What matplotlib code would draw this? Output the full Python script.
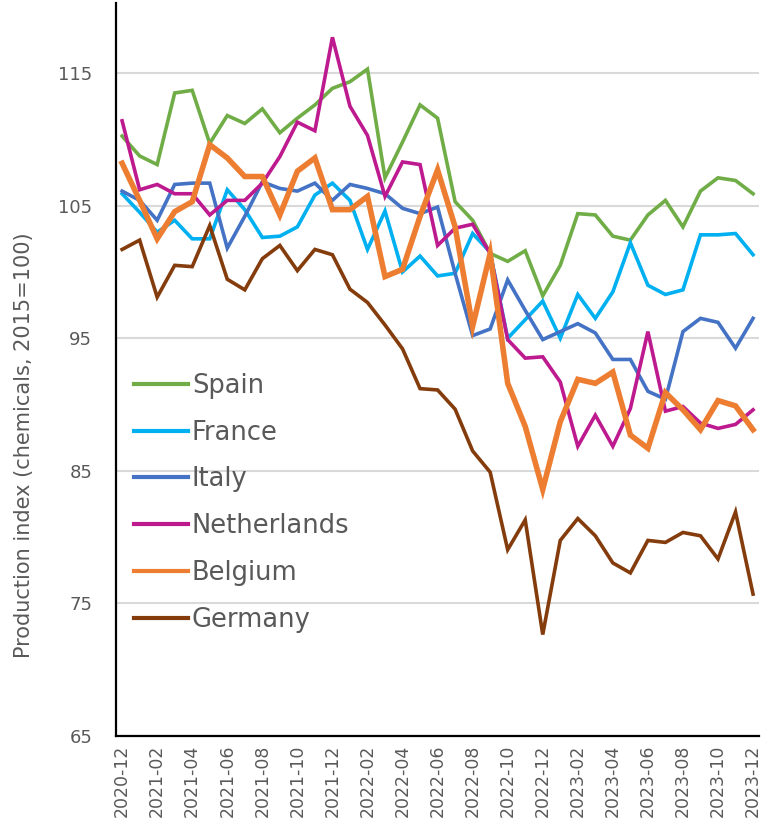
import numpy as np
import matplotlib
matplotlib.use("Agg")
import matplotlib.pyplot as plt

months = ["2020-12",
          "2021-01", "2021-02", "2021-03", "2021-04", "2021-05", "2021-06",
          "2021-07", "2021-08", "2021-09", "2021-10", "2021-11", "2021-12",
          "2022-01", "2022-02", "2022-03", "2022-04", "2022-05", "2022-06",
          "2022-07", "2022-08", "2022-09", "2022-10", "2022-11", "2022-12",
          "2023-01", "2023-02", "2023-03", "2023-04", "2023-05", "2023-06",
          "2023-07", "2023-08", "2023-09", "2023-10", "2023-11", "2023-12"]

spain = [110.25, 108.75, 108.1, 113.5, 113.7, 109.7, 111.8, 111.2, 112.3, 110.5,
         111.6, 112.6, 113.85, 114.35, 115.3, 107.1, 109.8, 112.6, 111.6, 105.3,
         103.9, 101.4, 100.8, 101.6, 98.2, 100.5, 104.4, 104.3, 102.7, 102.4,
         104.3, 105.4, 103.4, 106.1, 107.1, 106.9, 105.9]
france = [105.9, 104.5, 103.0, 103.9, 102.5, 102.5, 106.2, 104.7, 102.6, 102.7,
          103.4, 105.8, 106.7, 105.4, 101.7, 104.6, 100.0, 101.2, 99.7, 99.9,
          102.9, 101.5, 95.0, 96.4, 97.8, 95.0, 98.3, 96.5, 98.5, 102.2,
          99.0, 98.3, 98.65, 102.8, 102.8, 102.9, 101.3]
italy = [106.1, 105.4, 103.9, 106.6, 106.7, 106.7, 101.8, 104.2, 106.8, 106.3,
         106.1, 106.7, 105.4, 106.6, 106.3, 105.9, 104.8, 104.4, 104.9, 99.9,
         95.2, 95.7, 99.4, 97.1, 94.9, 95.5, 96.1, 95.4, 93.4, 93.4,
         91.0, 90.4, 95.5, 96.5, 96.2, 94.25, 96.5]
netherlands = [111.4, 106.2, 106.6, 105.9, 105.9, 104.3, 105.4, 105.4, 106.7, 108.7,
               111.3, 110.65, 117.7, 112.5, 110.3, 105.7, 108.3, 108.1, 102.0, 103.3,
               103.6, 101.4, 94.9, 93.5, 93.6, 91.7, 86.85, 89.2, 86.85, 89.7,
               95.5, 89.5, 89.85, 88.6, 88.2, 88.5, 89.6]
belgium = [108.2, 105.4, 102.5, 104.55, 105.3, 109.6, 108.6, 107.2, 107.2, 104.3,
           107.6, 108.6, 104.7, 104.7, 105.7, 99.65, 100.2, 104.2, 107.7, 103.4,
           95.9, 101.4, 91.6, 88.35, 83.6, 88.7, 91.9, 91.6, 92.45, 87.7,
           86.7, 90.9, 89.6, 88.1, 90.3, 89.9, 88.1]
germany = [101.7, 102.4, 98.1, 100.5, 100.4, 103.5, 99.45, 98.65, 101.0, 102.0,
           100.1, 101.7, 101.3, 98.7, 97.7, 96.0, 94.2, 91.2, 91.1, 89.65,
           86.5, 84.9, 79.05, 81.3, 72.65, 79.75, 81.4, 80.1, 78.05, 77.3,
           79.75, 79.6, 80.35, 80.1, 78.35, 81.9, 75.7]

countries = ["Spain", "France", "Italy", "Netherlands", "Belgium", "Germany"]
series = [spain, france, italy, netherlands, belgium, germany]
colors = ["#70AD47", "#00B0F0", "#4472C4", "#BE1A8F", "#ED7D31", "#843C0C"]
widths = [2.6, 2.6, 2.6, 2.6, 4.0, 2.6]

text_color = "#595959"

fig = plt.figure(figsize=(7.63, 8.35), dpi=100)
ax = fig.add_axes([0.152, 0.1186, 0.843, 0.878])

x = np.arange(len(months))
for name, vals, c, lw in zip(countries, series, colors, widths):
    ax.plot(x, vals, color=c, lw=lw, label=name, solid_joinstyle="miter")

ax.set_xlim(-0.35, len(months) - 1 + 0.35)
ax.set_ylim(65, 120.3)
ax.set_yticks([65, 75, 85, 95, 105, 115])
ax.set_xticks(x[::2])
ax.set_xticklabels(months[::2], rotation=90, fontsize=12.5, color=text_color)
ax.tick_params(axis="y", labelsize=13, labelcolor=text_color, length=0, pad=17)
ax.tick_params(axis="x", length=0, pad=6)
ax.grid(axis="y", color="#D9D9D9", lw=1.5)
ax.set_axisbelow(True)

for s in ["top", "right"]:
    ax.spines[s].set_visible(False)
for s in ["left", "bottom"]:
    ax.spines[s].set_color("black")
    ax.spines[s].set_linewidth(1.6)

ax.set_ylabel("Production index (chemicals, 2015=100)", fontsize=15, color=text_color)
ax.yaxis.set_label_coords(-0.128, 0.397)

leg = ax.legend(loc="upper left", bbox_to_anchor=(0.0, 0.52), frameon=False,
                fontsize=18.5, handlelength=2.1, handletextpad=0.15,
                labelspacing=0.81, borderaxespad=0.3)
for t in leg.get_texts():
    t.set_color(text_color)
for h in leg.get_lines():
    h.set_linewidth(3)

plt.savefig("out.png", dpi=100)
